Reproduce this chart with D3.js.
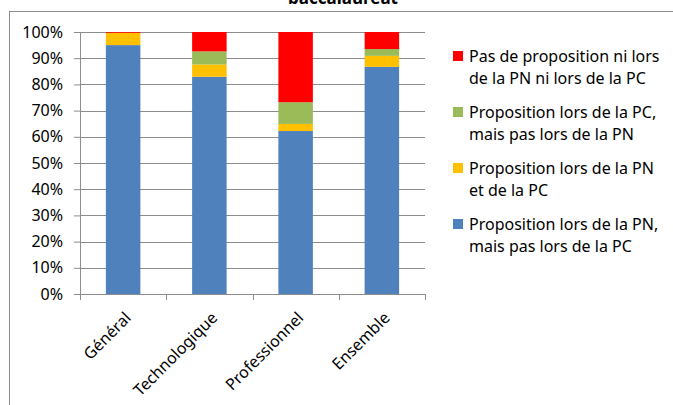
<!DOCTYPE html>
<html>
<head>
<meta charset="utf-8">
<script src="https://cdn.jsdelivr.net/npm/d3@7"></script>
<style>
  body { margin: 0; background: #fff; }
  svg { display: block; font-family: "Noto Sans", sans-serif; }
</style>
</head>
<body>
<svg id="chart" width="673" height="405"></svg>
<script>
const categories = ["Général", "Technologique", "Professionnel", "Ensemble"]

// stacked from bottom to top
const seriesKeys = ["pnOnly", "both", "pcOnly", "none"]
const seriesLabels = [
  ["Proposition lors de la PN,", "mais pas lors de la PC"],
  ["Proposition lors de la PN", "et de la PC"],
  ["Proposition lors de la PC,", "mais pas lors de la PN"],
  ["Pas de proposition ni lors", "de la PN ni lors de la PC"]
]
const seriesColors = ["#4F81BD", "#FFC000", "#9BBB59", "#FF0000"]

const pnOnly = [95.0, 82.9, 62.2, 86.7]
const both = [4.7, 4.7, 2.7, 4.2]
const pcOnly = [0.0, 5.0, 8.3, 2.6]
const none = [0.3, 7.4, 26.8, 6.5]

const yTicks = [0, 10, 20, 30, 40, 50, 60, 70, 80, 90, 100]

const rows = categories.map((c, i) => ({
  cat: c, pnOnly: pnOnly[i], both: both[i], pcOnly: pcOnly[i], none: none[i]
}))

const svg = d3.select("#chart")
const margin = { top: 32, left: 80, right: 248, bottom: 111 }
const width = 673, height = 405
const innerW = width - margin.left - margin.right
const innerH = height - margin.top - margin.bottom

// chart border (only partly visible)
svg.append("rect")
  .attr("x", 9.5).attr("y", 11.5)
  .attr("width", 700).attr("height", 420)
  .attr("fill", "none").attr("stroke", "#8c8c8c").attr("stroke-width", 1)

// title, clipped at the top like the reference
svg.append("text")
  .attr("x", 343).attr("y", 4)
  .attr("text-anchor", "middle")
  .attr("font-weight", "bold")
  .attr("font-size", 17)
  .text("baccalauréat")

const x = d3.scaleBand().domain(categories).range([0, innerW]).paddingInner(0.6).paddingOuter(0.3)
const y = d3.scaleLinear().domain([0, 100]).range([innerH, 0])

const g = svg.append("g").attr("transform", `translate(${margin.left},${margin.top})`)

// gridlines
g.selectAll("line.grid").data(yTicks.filter(d => d > 0))
  .join("line").attr("class", "grid")
  .attr("x1", 0).attr("x2", innerW)
  .attr("y1", d => Math.round(y(d)) + 0.5).attr("y2", d => Math.round(y(d)) + 0.5)
  .attr("stroke", "#8c8c8c").attr("stroke-width", 1)

const stack = d3.stack().keys(seriesKeys)(rows)

g.selectAll("g.series").data(stack)
  .join("g").attr("class", "series")
  .attr("fill", (d, i) => seriesColors[i])
  .selectAll("rect").data(d => d)
  .join("rect")
  .attr("x", d => x(d.data.cat))
  .attr("width", x.bandwidth())
  .attr("y", d => y(d[1]))
  .attr("height", d => y(d[0]) - y(d[1]))

// y axis
const yAxis = g.append("g")
  .call(d3.axisLeft(y).tickValues(yTicks).tickFormat(d => d + "%").tickSize(6).tickPadding(11))
yAxis.select(".domain").attr("stroke", "#8c8c8c")
yAxis.selectAll(".tick line").attr("stroke", "#8c8c8c")
yAxis.selectAll(".tick text").attr("font-size", 16).attr("fill", "#000").attr("font-family", "Noto Sans")

// x axis with ticks between categories
const step = innerW / categories.length
const xAxisG = g.append("g").attr("transform", `translate(0,${innerH})`)
xAxisG.append("line")
  .attr("x1", 0).attr("x2", innerW).attr("y1", 0.5).attr("y2", 0.5)
  .attr("stroke", "#8c8c8c")
xAxisG.selectAll("line.tk").data(d3.range(categories.length + 1))
  .join("line").attr("class", "tk")
  .attr("x1", d => Math.round(d * step) + 0.5).attr("x2", d => Math.round(d * step) + 0.5)
  .attr("y1", 0).attr("y2", 6)
  .attr("stroke", "#8c8c8c")

xAxisG.selectAll("text").data(categories)
  .join("text")
  .attr("transform", d => `translate(${x(d) + x.bandwidth() / 2 + 1},${17}) rotate(-45)`)
  .attr("text-anchor", "end")
  .attr("dy", "0.7em")
  .attr("font-size", 16)
  .text(d => d)

// legend, top to bottom reversed order
const legend = svg.append("g").attr("transform", "translate(453,56)")
const legendOrder = [3, 2, 1, 0]
const items = legend.selectAll("g").data(legendOrder)
  .join("g")
  .attr("transform", (d, i) => `translate(0,${i * 56})`)
items.append("rect")
  .attr("x", 0).attr("y", -5).attr("width", 10).attr("height", 10)
  .attr("fill", d => seriesColors[d])
items.each(function (d) {
  d3.select(this).selectAll("text").data(seriesLabels[d])
    .join("text")
    .attr("x", 16).attr("y", (t, j) => j * 22)
    .attr("dy", "0.35em")
    .attr("font-size", 16)
    .text(t => t)
})
</script>
</body>
</html>
